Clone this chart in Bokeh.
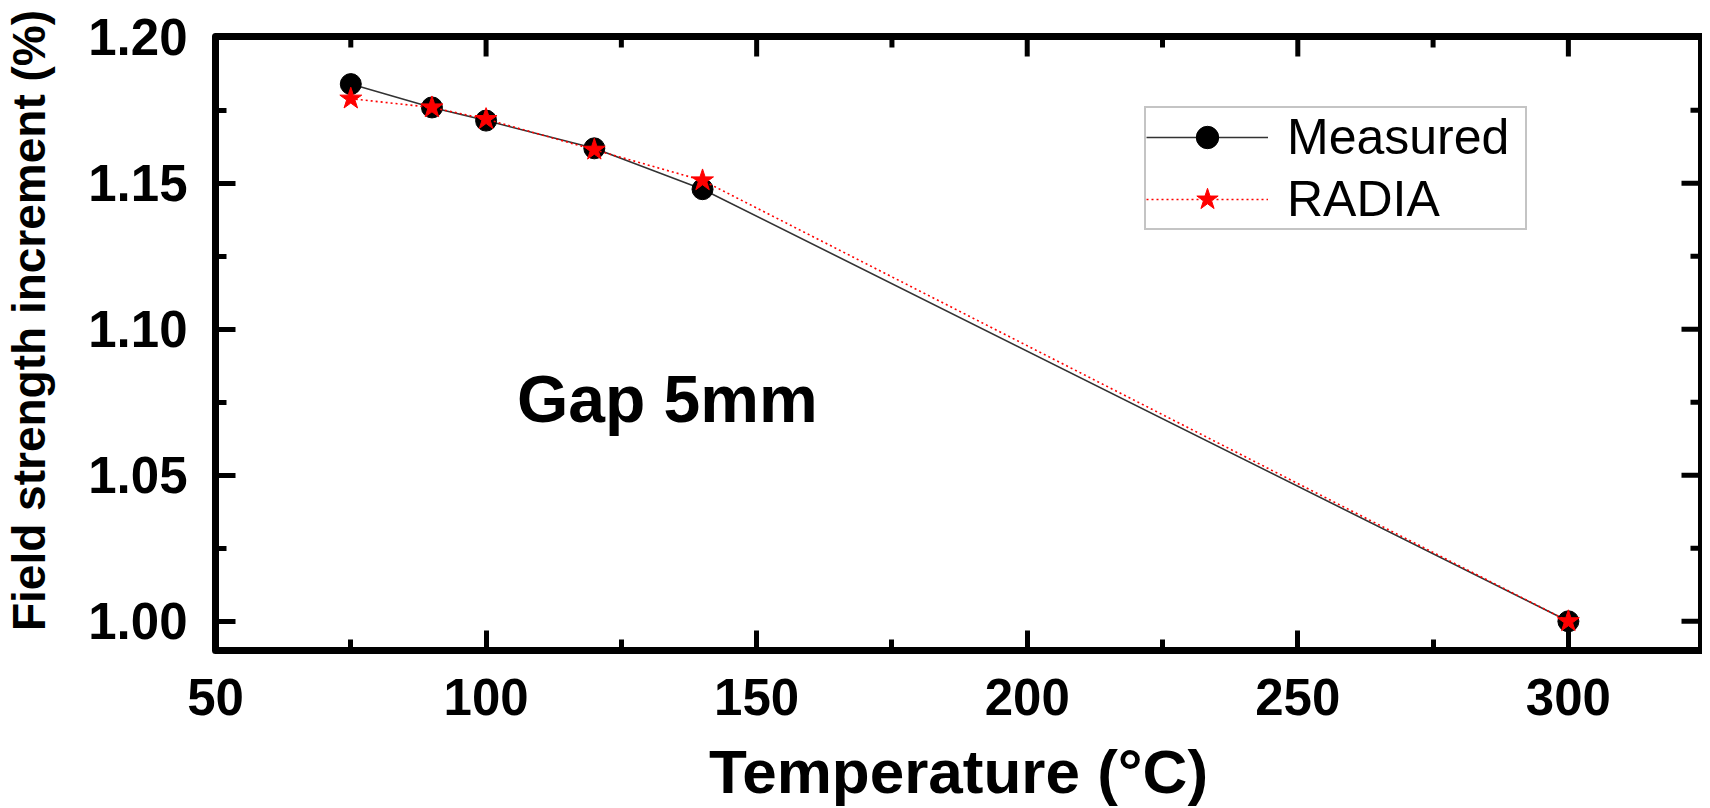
import numpy as np
from bokeh.plotting import figure
from bokeh.models import (Range1d, LinearAxis, SingleIntervalTicker, Legend, LegendItem,
                          Label, NumeralTickFormatter)
from bokeh.embed import file_html
from bokeh.resources import INLINE

# ---- data ----
temperature = [75, 90, 100, 120, 140, 300]
measured = [1.184, 1.176, 1.1715, 1.162, 1.148, 1.000]
radia = [1.179, 1.176, 1.172, 1.1615, 1.151, 1.000]

x_label = "Temperature (°C)"
y_label = "\u2003Field strength increment (%)"
annotation = "Gap 5mm"

FONT = "Liberation Sans"
X0, X1 = 50, 324.6
Y0, Y1 = 0.99, 1.2003
X_STEP, Y_STEP = 50, 0.05

p = figure(width=1702, height=808, output_backend="svg", toolbar_location=None,
           x_range=Range1d(X0, X1), y_range=Range1d(Y0, Y1),
           x_axis_type=None, y_axis_type=None,
           min_border_left=213, min_border_right=1, min_border_top=36, min_border_bottom=157)
p.background_fill_color = "white"
p.border_fill_color = "white"
p.xgrid.visible = False
p.ygrid.visible = False
p.outline_line_color = "black"
p.outline_line_width = 7
p.outline_line_join = "round"


def style_axis(ax):
    ax.axis_line_color = None
    ax.major_tick_in = 20
    ax.major_tick_out = 0
    ax.minor_tick_in = 11
    ax.minor_tick_out = 0
    ax.major_tick_line_width = 5
    ax.minor_tick_line_width = 5
    ax.major_tick_line_color = "black"
    ax.minor_tick_line_color = "black"
    ax.major_label_text_font = FONT
    ax.major_label_text_font_style = "bold"
    ax.major_label_text_color = "black"
    ax.major_label_text_font_size = "51px"
    ax.axis_label_text_font = FONT
    ax.axis_label_text_font_style = "bold"
    ax.axis_label_text_color = "black"


xb = LinearAxis(ticker=SingleIntervalTicker(interval=X_STEP, num_minor_ticks=2),
                axis_label=x_label)
style_axis(xb)
xb.major_label_standoff = 28
xb.axis_label_text_font_size = "62px"
xb.axis_label_standoff = 19
p.add_layout(xb, "below")

yl = LinearAxis(ticker=SingleIntervalTicker(interval=Y_STEP, num_minor_ticks=2),
                formatter=NumeralTickFormatter(format="0.00"), axis_label=y_label)
style_axis(yl)
yl.major_label_standoff = 28
yl.axis_label_text_font_size = "46px"
yl.axis_label_standoff = 30
p.add_layout(yl, "left")

# ---- inward ticks on the top and right edges (half of each dash is clipped by the frame) ----
x_major = np.arange(X0, X1, X_STEP)
x_minor = np.arange(X0 + X_STEP / 2, X1, X_STEP)
y_major = np.arange(1.0, Y1, Y_STEP)
y_minor = np.arange(Y0 + 0.01 + Y_STEP / 2, Y1, Y_STEP)
p.scatter(x_major, np.full(len(x_major), Y1), marker="dash", size=40, angle=np.pi / 2,
          line_color="black", line_width=5)
p.scatter(x_minor, np.full(len(x_minor), Y1), marker="dash", size=22, angle=np.pi / 2,
          line_color="black", line_width=5)
p.scatter(np.full(len(y_major), X1), y_major, marker="dash", size=40,
          line_color="black", line_width=5)
p.scatter(np.full(len(y_minor), X1), y_minor, marker="dash", size=22,
          line_color="black", line_width=5)

# ---- series ----
m_line = p.line(temperature, measured, line_color="#333333", line_width=1.6)
m_pts = p.scatter(temperature, measured, marker="circle", size=21,
                  fill_color="black", line_color="black")
r_line = p.line(temperature, radia, line_color="red", line_width=1.6, line_dash="2 3")
r_pts = p.scatter(temperature, radia, marker="star", size=23,
                  fill_color="red", line_color="red")

legend = Legend(items=[LegendItem(label="Measured", renderers=[m_line, m_pts]),
                       LegendItem(label="RADIA", renderers=[r_line, r_pts])],
                location=(929, 420), orientation="vertical")
legend.border_line_color = "#8a8a8a"
legend.border_line_width = 2
legend.background_fill_color = "white"
legend.background_fill_alpha = 1
legend.label_text_font = FONT
legend.label_text_font_size = "50px"
legend.label_text_color = "black"
legend.glyph_width = 122
legend.glyph_height = 56
legend.label_height = 56
legend.label_standoff = 19
legend.label_width = 238
legend.padding = 0
legend.spacing = 4
legend.margin = 0
p.add_layout(legend, "center")

p.add_layout(Label(x=105.7, y=1.0761, text=annotation, text_font=FONT,
                   text_font_style="bold", text_font_size="66px",
                   text_color="black", text_baseline="middle"))

open("out.html", "w").write(file_html(p, INLINE))
